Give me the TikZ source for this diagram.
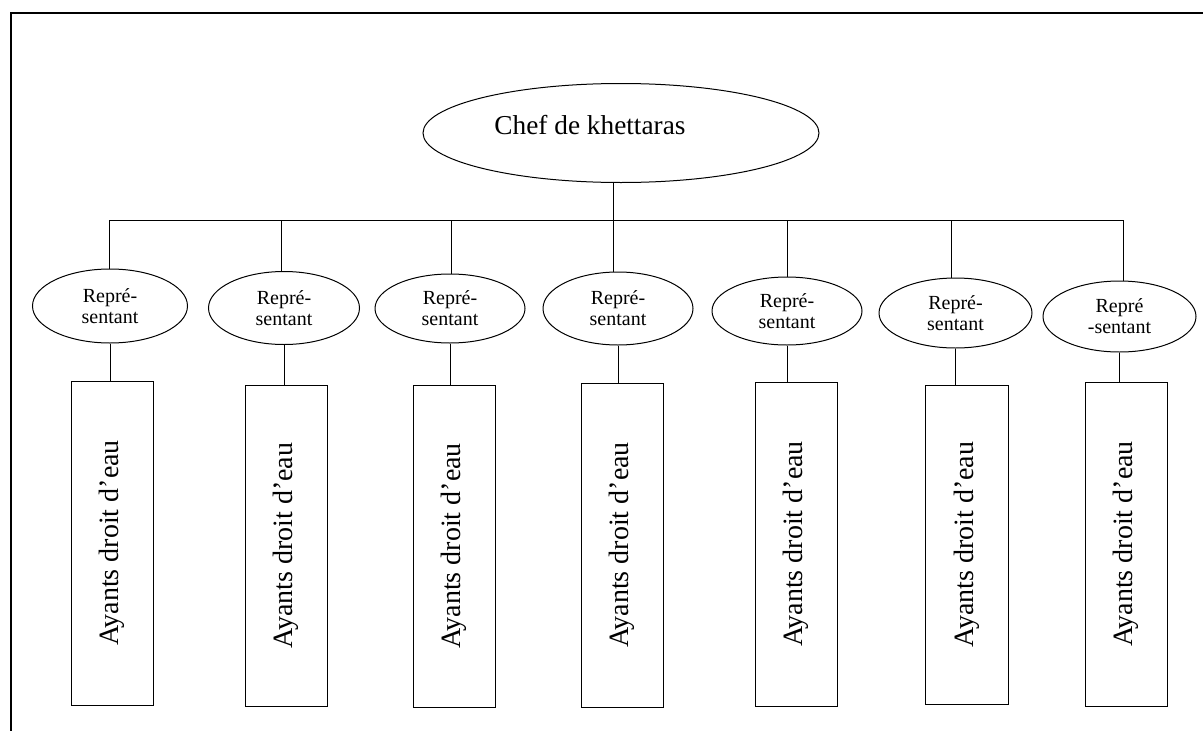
\documentclass[tikz,border=0pt]{standalone}
\usepackage{fontspec}
\setmainfont{Liberation Serif}
\usetikzlibrary{shapes.geometric}
\tikzset{
  ln/.style={line width=1pt, draw=black},
  bigell/.style={ellipse, ln, inner sep=0pt, minimum width=396pt, minimum height=99pt},
  repell/.style={ellipse, ln, inner sep=0pt, align=center, font=\fontsize{20}{21}\selectfont},
  ayant/.style={rectangle, ln, inner sep=0pt, minimum width=82pt, minimum height=324pt},
  ayanttext/.style={rotate=90, font=\fontsize{28}{30}\selectfont, inner sep=0pt},
}
\begin{document}
\begin{tikzpicture}[x=1pt,y=-1pt]
\useasboundingbox (0,0) rectangle (1203,731);
% frame (only top and left edges visible)
\coordinate (fTL) at (11,13);
\coordinate (fTR) at (1203,13);
\coordinate (fBL) at (11,731);
\draw[line width=1.3pt] (fBL) -- (fTL) -- (fTR);

% chief
\node[bigell] (chef) at (621,133) {};
\node[font=\fontsize{27.3}{30}\selectfont, inner sep=0pt] (cheftext) at (590,125) {Chef de khettaras};

% bus
\coordinate (busmid) at (613,220);
\coordinate (busL) at (109,220);
\coordinate (busR) at (1123,220);
\draw[ln] (busL) -- (busR);
\draw[ln] (busmid) -- (busmid |- chef.south);

% representatives
\node[repell, minimum width=155pt, minimum height=74pt] (e1) at (110,306) {Repré-\\sentant};
\node[repell, minimum width=151pt, minimum height=73pt] (e2) at (284,308) {Repré-\\sentant};
\node[repell, minimum width=150pt, minimum height=69pt] (e3) at (450,308.5) {Repré-\\sentant};
\node[repell, minimum width=150pt, minimum height=73pt] (e4) at (618,308.5) {Repré-\\sentant};
\node[repell, minimum width=150pt, minimum height=68pt] (e5) at (787,311) {Repré-\\sentant};
\node[repell, minimum width=153pt, minimum height=70pt] (e6) at (955.5,313) {Repré-\\sentant};
\node[repell, minimum width=153pt, minimum height=71pt] (e7) at (1119.5,316.5) {Repré\\-sentant};

% drops from bus
\coordinate (b1) at (109,220);
\coordinate (b2) at (281,220);
\coordinate (b3) at (451,220);
\coordinate (b4) at (613,220);
\coordinate (b5) at (787,220);
\coordinate (b6) at (951,220);
\coordinate (b7) at (1123,220);
\foreach \i in {1,...,7} {
  \draw[ln] (b\i) -- (b\i |- e\i.north);
}

% water-right holders
\node[ayant, minimum width=82pt, minimum height=324pt] (r1) at (112,543) {};
\node[ayant, minimum width=82pt, minimum height=321pt] (r2) at (286,545.5) {};
\node[ayant, minimum width=82pt, minimum height=322pt] (r3) at (454,546) {};
\node[ayant, minimum width=82pt, minimum height=324pt] (r4) at (622,545) {};
\node[ayant, minimum width=82pt, minimum height=324pt] (r5) at (796,544) {};
\node[ayant, minimum width=83pt, minimum height=319pt] (r6) at (966.5,544.5) {};
\node[ayant, minimum width=82pt, minimum height=324pt] (r7) at (1126,544) {};
\foreach \i in {1,...,7} {
  \node[ayanttext] (t\i) at (r\i.center) {Ayants droit d’eau};
  \draw[ln] (e\i.south) -- (e\i.south |- r\i.north);
}
\end{tikzpicture}
\end{document}
